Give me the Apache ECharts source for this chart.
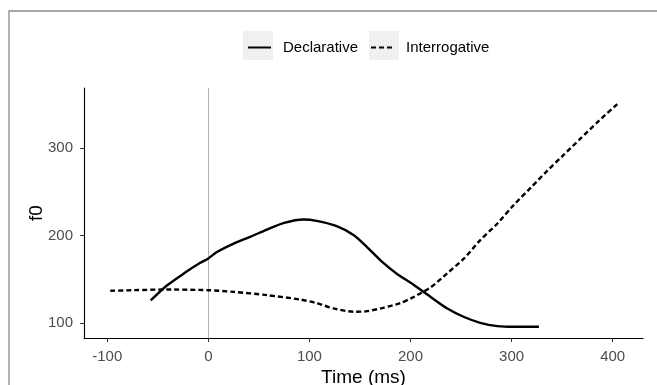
<!DOCTYPE html>
<html><head><meta charset="utf-8">
<script src="https://cdn.jsdelivr.net/npm/echarts@6/dist/echarts.min.js"></script>
<style>html,body{margin:0;padding:0;background:#fff}#c{width:657px;height:385px}</style>
</head><body><div id="c"></div>
<script>
var xTicks = [-100, 0, 100, 200, 300, 400];
var yTicks = [100, 200, 300];
var declTime = [-57, -41, -24, -8, 0, 8, 25, 42, 58, 75, 94, 107, 127, 144, 157, 172, 187, 203, 220, 236, 253, 269, 286, 302, 327];
var declF0   = [126, 143, 157, 169, 174, 181, 191, 199, 207, 214.6, 218.5, 217, 211, 200.6, 187, 170, 156, 144, 130, 117, 107, 100.4, 96.6, 95.8, 95.8];
var interTime = [-97, -74, -41, 0, 25, 58, 91, 107, 124, 144, 157, 173, 190, 200, 220, 236, 253, 269, 286, 302, 319, 335, 352, 368, 385, 405];
var interF0   = [137, 137.7, 138.5, 137.7, 135.8, 132, 127, 123, 116.8, 113, 113.7, 117.5, 123, 128, 141, 156.7, 174, 195, 214, 235, 255, 274, 293, 311, 330, 351];
var seriesNames = ['Declarative', 'Interrogative'];

function pairs(xs, ys){ return xs.map(function(x,i){ return [x, ys[i]]; }); }

var chart = echarts.init(document.getElementById('c'), null, {renderer:'canvas'});
var font = 'Liberation Sans, Arial, sans-serif';
chart.setOption({
  animation: false,
  textStyle: {fontFamily: font},
  graphic: [
    {type:'rect', shape:{x:9, y:11, width:700, height:400}, style:{fill:'none', stroke:'#8c8c8c', lineWidth:1.3}, z:0},
    {type:'rect', shape:{x:243, y:31, width:30, height:29}, style:{fill:'#f0f0f0'}, z:0},
    {type:'rect', shape:{x:369, y:31, width:30, height:29}, style:{fill:'#f0f0f0'}, z:0}
  ],
  legend: {
    data: seriesNames,
    left: 242, top: 35,
    itemWidth: 23, itemHeight: 14, itemGap: 12,
    itemStyle: {color: 'rgba(0,0,0,0)', borderColor: 'rgba(0,0,0,0)', borderWidth: 0},
    textStyle: {fontSize: 15, color: '#000', fontFamily: font, padding:[0,0,0,7]}
  },
  grid: {left: 84, right: 14, top: 88, bottom: 47, containLabel: false, outerBoundsMode: 'none'},
  xAxis: {
    type: 'value', min: -123, max: 430,
    name: 'Time (ms)', nameLocation: 'middle', nameGap: 30, nameMoveOverlap: false,
    nameTextStyle: {fontSize: 19, color: '#000', fontFamily: font},
    axisLine: {show: true, onZero: false, lineStyle: {color: '#000', width: 1.1}},
    axisTick: {show: true, length: 4, lineStyle: {color: '#333'}, customValues: xTicks},
    axisLabel: {fontSize: 15, color: '#4d4d4d', margin: 11, customValues: xTicks},
    splitLine: {show: false}
  },
  yAxis: {
    type: 'value', min: 83, max: 369,
    name: 'f0', nameLocation: 'middle', nameGap: 38, nameRotate: 90, nameMoveOverlap: false,
    nameTextStyle: {fontSize: 19, color: '#000', fontFamily: font},
    axisLine: {show: true, onZero: false, lineStyle: {color: '#000', width: 1.1}},
    axisTick: {show: true, length: 4, lineStyle: {color: '#333'}, customValues: yTicks},
    axisLabel: {fontSize: 15, color: '#4d4d4d', margin: 11, customValues: yTicks},
    splitLine: {show: false}
  },
  series: [
    {
      name: seriesNames[0], type: 'line', data: pairs(declTime, declF0),
      showSymbol: false, symbol: 'none', smooth: 0.25,
      lineStyle: {color: '#000', width: 2.4, type: 'solid'},
      itemStyle: {color: '#000'},
      markLine: {silent: true, symbol: 'none', label: {show: false},
        lineStyle: {color: '#b3b3b3', width: 1, type: 'solid'},
        data: [{xAxis: 0}], z: 1}
    },
    {
      name: seriesNames[1], type: 'line', data: pairs(interTime, interF0),
      showSymbol: false, symbol: 'none', smooth: 0.25,
      lineStyle: {color: '#000', width: 2.4, type: [5, 3]},
      itemStyle: {color: '#000'}
    }
  ]
});
</script></body></html>
